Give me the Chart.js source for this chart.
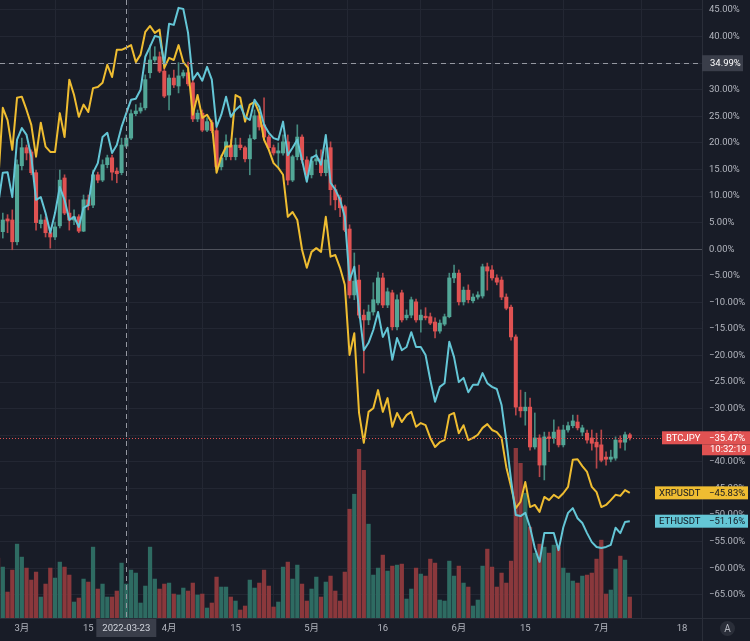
<!DOCTYPE html>
<html lang="ja">
<head>
<meta charset="utf-8">
<title>BTCJPY / XRPUSDT / ETHUSDT</title>
<script src="https://cdn.jsdelivr.net/npm/chart.js@4/dist/chart.umd.min.js"></script>
<style>
  html, body { margin: 0; padding: 0; background: #181c27; overflow: hidden; }
  canvas { display: block; }
</style>
</head>
<body>
<canvas id="chart" width="750" height="641"></canvas>
<script>
// daily bars starting 2022-02-24, all prices as % change
const startDate = '2022-02-24';

const btcOpen = [
  4.6, 3.3, 5.7, 5.5, 1.4, 15.7, 19.1, 18.3, 14.4, 4.8,
  5.5, 3.1, 2.3, 4.4, 13.4, 6.8, 5.5, 6.1, 3.4, 9.3,
  8.3, 14.0, 13.0, 15.9, 17.2, 14.7, 14.4, 19.4, 20.9, 25.5,
  26.0, 26.6, 33.2, 35.6, 36.2, 33.5, 29.0, 32.2, 30.7, 32.6,
  33.2, 31.3, 24.5, 25.6, 22.4, 23.8, 22.3, 15.5, 17.4, 19.6,
  17.4, 19.6, 19.1, 17.0, 20.8, 25.1, 23.4, 21.1, 19.1, 18.1,
  18.1, 20.2, 13.0, 17.4, 21.1, 16.8, 14.0, 16.6, 17.0, 14.4,
  19.1, 11.2, 9.7, 8.0, 3.8, -8.6, -5.8, -12.4, -13.3, -11.8,
  -10.1, -5.4, -10.5, -8.2, -14.6, -8.2, -12.9, -12.4, -9.9, -13.3,
  -12.6, -12.7, -13.7, -15.4, -14.1, -12.7, -5.4, -4.5, -9.9, -7.7,
  -9.7, -9.0, -8.8, -3.3, -3.9, -5.4, -5.8, -9.0, -10.9, -16.5,
  -29.7, -30.4, -29.7, -37.2, -35.5, -40.6, -35.3, -35.5, -34.0, -36.8,
  -34.0, -33.2, -32.5, -34.4, -34.6, -35.5, -36.3, -36.8, -39.1, -39.5,
  -39.3, -35.9, -36.3, -34.9
];
const btcHigh = [
  6.5, 6.8, 6.5, 7.4, 16.8, 20.9, 19.6, 18.7, 14.9, 6.5,
  6.1, 4.0, 5.1, 14.9, 14.0, 9.3, 7.4, 6.5, 10.2, 10.2,
  14.9, 14.5, 16.8, 17.7, 17.7, 15.3, 20.9, 21.5, 26.2, 27.2,
  27.5, 32.8, 38.4, 38.1, 37.1, 34.1, 32.8, 33.7, 35.1, 33.7,
  35.2, 31.9, 26.2, 26.2, 24.7, 24.3, 22.8, 17.7, 21.5, 20.6,
  20.9, 20.9, 19.4, 21.5, 26.2, 25.6, 28.5, 21.5, 19.6, 20.0,
  21.5, 21.5, 17.7, 23.4, 21.5, 17.4, 17.4, 18.7, 18.7, 19.1,
  20.2, 12.1, 10.2, 8.3, 4.6, -0.7, -3.0, -11.4, -10.5, -6.3,
  -4.3, -4.5, -7.3, -7.7, -8.6, -7.7, -11.4, -9.0, -9.4, -11.4,
  -11.0, -12.0, -12.9, -13.3, -12.2, -4.5, -3.0, -3.9, -7.1, -6.7,
  -8.4, -8.0, -2.8, -2.6, -3.1, -4.8, -5.2, -8.4, -10.5, -16.1,
  -26.5, -26.9, -28.0, -30.8, -34.9, -34.4, -34.4, -32.1, -33.4, -33.1,
  -32.5, -31.2, -31.2, -33.1, -34.0, -34.0, -34.6, -34.0, -38.1, -37.8,
  -35.3, -35.1, -34.4, -34.6
];
const btcLow = [
  -1.6, 2.1, 3.1, -0.1, 0.8, 14.9, 16.8, 14.0, 3.6, 4.0,
  2.3, 0.2, 1.8, 4.0, 6.5, 3.6, 4.6, 3.1, 3.3, 7.4,
  7.8, 12.5, 12.7, 15.3, 13.0, 12.5, 14.0, 19.1, 20.6, 25.1,
  25.6, 26.2, 32.2, 35.2, 33.2, 28.5, 26.2, 30.4, 29.4, 32.2,
  30.7, 24.0, 24.0, 22.1, 22.1, 21.9, 14.9, 14.9, 16.8, 16.8,
  16.8, 18.7, 16.4, 14.0, 20.6, 22.4, 20.6, 18.7, 17.7, 15.5,
  17.7, 12.1, 12.7, 16.8, 16.2, 13.4, 13.4, 15.9, 13.8, 13.8,
  8.3, 7.4, 6.1, 3.3, -9.2, -9.5, -12.9, -23.3, -14.2, -12.4,
  -10.5, -11.0, -11.0, -15.2, -15.2, -13.7, -13.3, -12.9, -13.7, -15.6,
  -13.3, -14.2, -16.7, -15.8, -14.4, -12.9, -6.3, -10.5, -10.5, -10.1,
  -10.1, -9.4, -9.2, -7.7, -5.8, -6.7, -9.5, -11.4, -17.1, -31.2,
  -31.6, -33.1, -37.8, -37.6, -42.8, -43.4, -38.1, -36.5, -37.2, -37.2,
  -34.4, -33.6, -34.0, -35.1, -36.5, -37.8, -41.2, -40.0, -40.6, -40.0,
  -39.7, -37.4, -37.8, -35.9
];
const btcClose = [
  2.1, 5.5, 5.3, 1.4, 15.9, 19.1, 18.1, 14.4, 5.0, 5.5,
  3.1, 2.3, 4.2, 13.0, 6.8, 5.5, 6.1, 3.4, 9.3, 8.2,
  14.0, 13.0, 15.9, 17.2, 14.5, 14.2, 19.6, 20.9, 25.5, 26.0,
  26.6, 31.9, 35.6, 36.2, 33.5, 28.8, 32.2, 30.9, 32.6, 33.2,
  31.1, 24.5, 25.6, 22.4, 24.0, 22.3, 15.5, 17.2, 20.2, 17.4,
  19.6, 19.1, 17.0, 20.8, 25.1, 23.0, 21.1, 19.1, 18.1, 18.5,
  20.2, 13.0, 17.4, 21.1, 16.8, 14.0, 16.6, 17.0, 14.4, 16.8,
  11.2, 9.3, 7.8, 3.6, -8.6, -6.0, -12.4, -13.3, -11.8, -9.5,
  -5.4, -10.5, -8.0, -14.6, -9.5, -13.3, -12.4, -9.5, -13.3, -12.4,
  -12.9, -13.9, -15.4, -13.9, -12.7, -5.4, -4.5, -9.9, -7.7, -9.5,
  -9.0, -8.6, -3.3, -4.1, -5.4, -6.2, -9.0, -11.1, -16.5, -29.7,
  -30.4, -29.7, -37.2, -35.5, -40.6, -35.3, -35.6, -34.4, -36.8, -34.0,
  -33.2, -32.3, -33.6, -33.6, -35.9, -36.5, -37.2, -39.7, -39.5, -39.1,
  -35.9, -36.3, -34.9, -35.47
];
const btcVolume = [
  60, 51, 26, 48, 74, 61, 50, 38, 46, 21,
  34, 50, 40, 56, 51, 43, 16, 20, 39, 36,
  71, 29, 34, 21, 21, 27, 55, 34, 48, 45,
  15, 32, 71, 39, 29, 34, 35, 24, 23, 30,
  27, 35, 23, 24, 10, 15, 41, 31, 31, 21,
  17, 8, 12, 38, 30, 35, 48, 32, 11, 16,
  51, 56, 39, 53, 34, 17, 29, 41, 21, 36,
  42, 27, 17, 46, 109, 124, 169, 148, 94, 43,
  50, 63, 47, 52, 53, 54, 19, 29, 50, 44,
  42, 59, 55, 18, 17, 57, 42, 52, 35, 31,
  12, 18, 52, 69, 51, 31, 45, 35, 57, 170,
  155, 125, 91, 65, 74, 71, 65, 73, 71, 50,
  45, 37, 35, 42, 43, 45, 59, 78, 24, 28,
  49, 62, 58, 21
];
const ethusdt = [
  8.3, 14.4, 14.5, 9.8, 20.6, 22.8, 21.5, 17.4, 9.3, 9.8,
  6.8, 3.1, 6.8, 11.7, 9.3, 5.5, 6.1, 4.2, 7.8, 8.3,
  14.4, 16.2, 21.1, 21.9, 18.1, 19.6, 23.0, 25.6, 28.1, 28.3,
  30.0, 36.2, 38.1, 40.1, 39.9, 34.9, 42.4, 42.2, 45.4, 45.2,
  40.7, 31.9, 33.2, 31.7, 34.3, 31.9, 23.0, 25.3, 28.7, 24.9,
  26.2, 27.0, 24.9, 24.3, 28.1, 26.8, 23.4, 21.9, 20.9, 20.6,
  24.0, 17.7, 19.1, 20.6, 16.8, 12.7, 17.2, 17.7, 15.9, 21.5,
  12.5, 11.2, 9.3, 6.1, -5.8, -3.3, -11.4, -19.0, -17.6, -15.2,
  -11.8, -16.5, -14.8, -20.8, -16.7, -19.0, -18.4, -15.6, -18.4, -18.4,
  -19.9, -24.6, -28.7, -25.9, -25.2, -17.4, -20.3, -25.0, -24.2, -26.9,
  -25.5, -25.5, -23.3, -25.2, -25.9, -26.3, -29.3, -35.9, -43.4, -50.0,
  -50.2, -49.6, -52.3, -56.2, -58.8, -53.4, -53.4, -53.4, -56.6, -52.3,
  -49.6, -48.7, -50.6, -51.5, -53.4, -55.1, -56.0, -56.2, -56.0, -55.6,
  -52.4, -53.4, -51.3, -51.16
];
const xrpusdt = [
  12.3, 26.6, 24.3, 18.7, 28.5, 28.7, 26.2, 23.4, 17.4, 23.8,
  19.3, 18.3, 18.3, 25.6, 21.1, 31.9, 29.0, 24.9, 27.2, 25.8,
  30.3, 30.5, 31.3, 34.7, 32.4, 37.5, 37.5, 37.9, 38.4, 35.2,
  36.6, 40.9, 42.0, 40.7, 41.3, 34.1, 36.0, 35.6, 38.4, 35.2,
  34.1, 25.3, 29.0, 24.7, 25.3, 23.8, 14.4, 17.4, 19.3, 19.3,
  29.0, 28.5, 24.0, 27.2, 27.7, 25.6, 20.6, 18.7, 16.2, 15.3,
  14.0, 6.1, 7.0, 5.5, -0.1, -3.5, -0.5, 0.2, -0.5, 6.1,
  -1.4, -1.1, -3.5, -6.7, -19.9, -15.8, -30.8, -36.4, -30.6, -29.9,
  -26.5, -30.6, -28.0, -33.4, -30.8, -32.5, -31.2, -30.6, -33.4, -32.7,
  -33.1, -35.5, -37.2, -36.3, -35.9, -31.2, -30.8, -34.6, -33.1, -35.9,
  -35.5, -34.9, -33.6, -32.9, -34.0, -34.4, -35.5, -41.0, -44.7, -48.7,
  -47.5, -43.8, -48.5, -48.1, -49.4, -46.6, -47.2, -46.2, -46.8, -45.9,
  -44.7, -39.6, -39.5, -40.8, -41.9, -44.7, -45.7, -48.5, -48.1, -47.2,
  -46.2, -46.4, -45.3, -45.83
];

const xTickDates = ['2022-03-01', '2022-03-15', '2022-04-01', '2022-04-15', '2022-05-01',
                    '2022-05-16', '2022-06-01', '2022-06-15', '2022-07-01', '2022-07-18'];
const xTickLabels = ['3月', '15', '4月', '15', '5月', '16', '6月', '15', '7月', '18'];
const yTicks = [45, 40, 35, 30, 25, 20, 15, 10, 5, 0, -5, -10, -15, -20, -25,
                -30, -35, -40, -45, -50, -55, -60, -65];

const crosshairDate = '2022-03-23';
const crosshairValue = 34.99;
const countdown = '10:32:19';

const BG = '#181c27';
const GRID = '#232733';
const ZERO = '#4e515b';
const TEXT = '#b2b5be';
const UP = '#52a797';
const DOWN = '#e05252';
const UP_WICK = '#45897f';
const DOWN_WICK = '#b8474a';
const VOL_UP = '#2e6b62';
const VOL_DOWN = '#8a383c';
const ETH = '#64c6d6';
const XRP = '#efbd31';
const FONT_FAMILY = 'Roboto, "Noto Sans CJK JP", sans-serif';
const FONT_SIZE = 9.5;

function dayOf(d) {
  return Math.round((Date.parse(d) - Date.parse(startDate)) / 864e5);
}
function fmtPct(v) {
  return (v < 0 ? '\u2212' : '') + Math.abs(v).toFixed(2) + '%';
}

const isUp = btcClose.map((c, i) => c >= btcOpen[i]);
const bodies = btcClose.map((c, i) => ({ x: i, y: [btcOpen[i], c] }));
const wicks = btcHigh.map((h, i) => ({ x: i, y: [btcLow[i], h] }));
const vols = btcVolume.map((v, i) => ({ x: i, y: v }));
const ethPts = ethusdt.map((v, i) => ({ x: i, y: v }));
const xrpPts = xrpusdt.map((v, i) => ({ x: i, y: v }));

const overlay = {
  id: 'overlay',
  beforeDraw(chart) {
    const ctx = chart.ctx;
    ctx.save();
    ctx.fillStyle = BG;
    ctx.fillRect(0, 0, chart.width, chart.height);
    ctx.restore();
  },
  afterDatasetsDraw(chart) {
    const { ctx, chartArea: a, scales: { x, y } } = chart;
    ctx.save();
    ctx.lineWidth = 1;

    // last price line
    const yb = Math.round(y.getPixelForValue(btcClose[btcClose.length - 1])) + 0.5;
    ctx.strokeStyle = DOWN;
    ctx.setLineDash([1, 2]);
    ctx.beginPath();
    ctx.moveTo(a.left, yb);
    ctx.lineTo(a.right, yb);
    ctx.stroke();

    // crosshair
    ctx.strokeStyle = '#9598a1';
    ctx.setLineDash([5, 4]);
    const cx = Math.round(x.getPixelForValue(dayOf(crosshairDate))) + 0.5;
    const cy = Math.round(y.getPixelForValue(crosshairValue)) + 0.5;
    ctx.beginPath();
    ctx.moveTo(cx, a.top);
    ctx.lineTo(cx, a.bottom);
    ctx.moveTo(a.left, cy);
    ctx.lineTo(a.right, cy);
    ctx.stroke();
    ctx.restore();
  },
  afterDraw(chart) {
    const { ctx, chartArea: a, scales: { x, y }, width, height } = chart;
    ctx.save();

    // pane separators
    ctx.strokeStyle = '#2a2e39';
    ctx.lineWidth = 1;
    ctx.beginPath();
    ctx.moveTo(a.right + 0.5, 0);
    ctx.lineTo(a.right + 0.5, height);
    ctx.moveTo(0, a.bottom + 0.5);
    ctx.lineTo(width, a.bottom + 0.5);
    ctx.stroke();

    ctx.font = FONT_SIZE + 'px ' + FONT_FAMILY;
    ctx.textBaseline = 'middle';

    // crosshair labels
    const cy = y.getPixelForValue(crosshairValue);
    ctx.fillStyle = '#3a3e4a';
    ctx.fillRect(a.right, cy - 8, 41, 16);
    ctx.fillStyle = '#ffffff';
    ctx.textAlign = 'left';
    ctx.fillText(fmtPct(crosshairValue), a.right + 8, cy);

    const cx = x.getPixelForValue(dayOf(crosshairDate));
    ctx.fillStyle = '#3a3e4a';
    ctx.fillRect(cx - 30, a.bottom + 1, 60, 18);
    ctx.fillStyle = '#d1d4dc';
    ctx.textAlign = 'center';
    ctx.fillText(crosshairDate, cx, a.bottom + 10.5);

    // last value tags
    const tags = [
      { name: 'BTCJPY', value: btcClose[btcClose.length - 1], bg: DOWN, fg: '#ffffff', left: a.right - 40, right: width },
      { name: 'XRPUSDT', value: xrpusdt[xrpusdt.length - 1], bg: XRP, fg: '#131722', left: a.right - 47, right: width - 2 },
      { name: 'ETHUSDT', value: ethusdt[ethusdt.length - 1], bg: ETH, fg: '#131722', left: a.right - 47, right: width - 2 }
    ];
    ctx.textAlign = 'left';
    tags.forEach((t, k) => {
      const py = y.getPixelForValue(t.value);
      ctx.fillStyle = t.bg;
      ctx.fillRect(t.left, py - 6.5, t.right - t.left, 13);
      if (k === 0) {
        ctx.fillRect(a.right, py + 6.5, width - a.right, 11);
        ctx.fillStyle = t.fg;
        ctx.fillText(countdown, a.right + 8, py + 12);
      }
      ctx.fillStyle = t.fg;
      ctx.fillText(t.name, t.left + 4, py + 0.5);
      ctx.fillText(fmtPct(t.value), a.right + 7, py + 0.5);
    });

    // auto-scale button
    ctx.fillStyle = '#2a2e39';
    ctx.beginPath();
    ctx.arc(a.right + 25.5, a.bottom + 10.5, 7.5, 0, Math.PI * 2);
    ctx.fill();
    ctx.fillStyle = TEXT;
    ctx.textAlign = 'center';
    ctx.font = '10px ' + FONT_FAMILY;
    ctx.fillText('A', a.right + 25.5, a.bottom + 11);
    ctx.restore();
  }
};

const ctx = document.getElementById('chart').getContext('2d');
const chart = new Chart(ctx, {
  type: 'bar',
  data: {
    datasets: [
      {
        type: 'line', label: 'ETHUSDT', data: ethPts,
        borderColor: ETH, borderWidth: 2, pointRadius: 0,
        borderJoinStyle: 'round', tension: 0, order: 1
      },
      {
        type: 'line', label: 'XRPUSDT', data: xrpPts,
        borderColor: XRP, borderWidth: 2, pointRadius: 0,
        borderJoinStyle: 'round', tension: 0, order: 2
      },
      {
        label: 'BTCJPY body', data: bodies,
        backgroundColor: isUp.map(u => u ? UP : DOWN),
        barThickness: 3.4, minBarLength: 1, grouped: false, order: 3
      },
      {
        label: 'BTCJPY wick', data: wicks,
        backgroundColor: isUp.map(u => u ? UP_WICK : DOWN_WICK),
        barThickness: 1, grouped: false, order: 4
      },
      {
        label: 'Volume', data: vols, yAxisID: 'yVol',
        backgroundColor: isUp.map(u => u ? VOL_UP : VOL_DOWN),
        barThickness: 3.6, grouped: false, order: 5
      }
    ]
  },
  options: {
    responsive: false,
    animation: false,
    devicePixelRatio: 1,
    layout: { padding: 0 },
    plugins: { legend: { display: false }, tooltip: { enabled: false } },
    scales: {
      x: {
        type: 'linear', min: 0.41, max: 148.2, offset: false,
        afterBuildTicks: s => { s.ticks = xTickDates.map(d => ({ value: dayOf(d) })); },
        afterFit: s => { s.height = 23; s.paddingLeft = 0; s.paddingRight = 0; },
        ticks: {
          color: TEXT, font: { family: FONT_FAMILY, size: FONT_SIZE },
          padding: 5, maxRotation: 0, autoSkip: false,
          callback: v => xTickLabels[xTickDates.findIndex(d => dayOf(d) === v)]
        },
        grid: { color: GRID, drawTicks: false },
        border: { display: false }
      },
      y: {
        type: 'linear', position: 'right', min: -69.37, max: 46.88,
        afterBuildTicks: s => { s.ticks = yTicks.map(v => ({ value: v })); },
        afterFit: s => { s.width = 48; s.paddingTop = 0; s.paddingBottom = 0; },
        ticks: {
          color: TEXT, font: { family: FONT_FAMILY, size: FONT_SIZE },
          padding: 7, callback: v => fmtPct(v)
        },
        grid: {
          drawTicks: false,
          color: c => (c.tick && c.tick.value === 0) ? ZERO : GRID
        },
        border: { display: false }
      },
      yVol: {
        type: 'linear', display: false, min: 0,
        max: Math.max(...btcVolume) / 0.2746
      }
    }
  },
  plugins: [overlay]
});
</script>
</body>
</html>
